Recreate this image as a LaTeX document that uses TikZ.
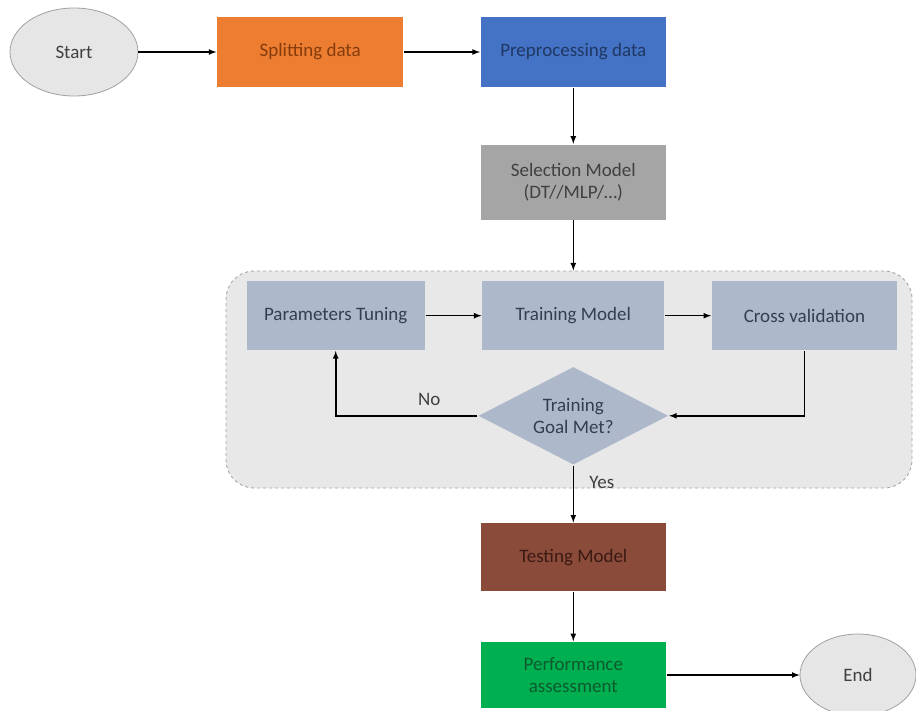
\documentclass[tikz,border=0pt]{standalone}
\usepackage{fontspec}
\setmainfont{Carlito}
\usetikzlibrary{arrows}
\usetikzlibrary{positioning,shapes.geometric}

\definecolor{termfill}{HTML}{E6E6E6}
\definecolor{termdraw}{HTML}{A0A0A0}
\definecolor{orangefill}{HTML}{ED7D31}
\definecolor{orangetext}{HTML}{843C0C}
\definecolor{bluefill}{HTML}{4472C4}
\definecolor{bluetext}{HTML}{1F3864}
\definecolor{grayfill}{HTML}{A5A5A5}
\definecolor{graytext}{HTML}{404040}
\definecolor{framefill}{HTML}{E8E8E9}
\definecolor{framedraw}{HTML}{A6A6A6}
\definecolor{slate}{HTML}{ADB9CA}
\definecolor{slatetext}{HTML}{333F50}
\definecolor{brownfill}{HTML}{8A4B3B}
\definecolor{browntext}{HTML}{3B1A12}
\definecolor{greenfill}{HTML}{00B050}
\definecolor{greentext}{HTML}{0E5A2E}

\begin{document}
\begin{tikzpicture} [->,>=latex,auto,line width=1.6pt,font=\fontsize{19}{22}\selectfont,
  blk/.style={rectangle,minimum width=185pt,minimum height=70pt,align=center,inner sep=2pt},
  term/.style={ellipse,draw=termdraw,line width=0.8pt,fill=termfill,text=graytext,minimum width=128pt,minimum height=88pt},
  inner/.style={blk,fill=slate,text=slatetext,minimum width=182pt,minimum height=69pt}]

  \useasboundingbox (0,0) rectangle (916pt,-711pt);

  % dashed frame round the training loop
  \node[draw=framedraw,fill=framefill,dashed,line width=0.9pt,rounded corners=28pt,minimum width=686pt,minimum height=217pt] (0) at (569pt,-379.5pt) {};

  \node[term] (1) at (74pt,-52pt) {Start};
  \node[blk] (2) [fill=orangefill,text=orangetext,minimum width=186pt,right=78pt of 1] {Splitting data};
  \node[blk] (3) [fill=bluefill,text=bluetext,right=76pt of 2] {Preprocessing data};
  \node[blk] (4) [fill=grayfill,text=graytext,minimum height=75pt,below=56pt of 3] {Selection Model\\(DT//MLP/…)};
  \node[inner] (6) [below=60pt of 4] {Training Model};
  \node[inner] (5) [minimum width=178pt,left=56pt of 6] {Parameters Tuning};
  \node[inner] (7) [minimum width=185pt,right=46pt of 6] {Cross validation};
  \node[diamond] (8) [aspect=1.94,fill=slate,text=slatetext,align=center,minimum width=190pt,minimum height=98pt,inner sep=0pt,below=15pt of 6] {Training\\Goal Met?};
  \node[blk] (9) [fill=brownfill,text=browntext,minimum height=68pt,below=57pt of 8] {Testing Model};
  \node[blk] (10) [fill=greenfill,text=greentext,minimum height=66pt,below=49pt of 9] {Performance\\assessment};
  \node[term] (11) [minimum width=116pt,minimum height=82pt,right=133pt of 10] {End};

  \path
    (1) edge (2)
    (2) edge (3)
    (3) edge (4)
    (5) edge (6)
    (6) edge (7)
    (9) edge (10)
    (10) edge (11);

  \draw (4) -- (4 |- 0.north);
  \draw (7) |- (8);
  \draw (8) -| node[pos=0.17,above=6pt,text=graytext] {No} (5);
  \draw (8) -- node[pos=0.3,right=12pt,text=graytext] {Yes} (9);

\end{tikzpicture}
\end{document}
